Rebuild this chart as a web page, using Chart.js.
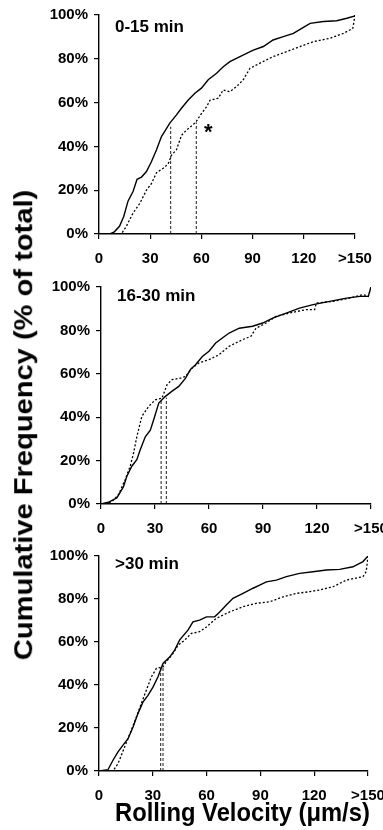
<!DOCTYPE html>
<html><head><meta charset="utf-8">
<script src="https://cdn.jsdelivr.net/npm/chart.js@4.4.1/dist/chart.umd.min.js"></script>
<style>
html,body{margin:0;padding:0;background:#fff;width:383px;height:830px;overflow:hidden;position:relative;}
canvas{position:absolute;left:0;}
.t{position:absolute;font-family:"Liberation Sans",Arial,sans-serif;font-weight:bold;color:#000;white-space:nowrap;line-height:1;}
</style></head><body>
<canvas id="c1" width="400" height="270" style="top:0px"></canvas>
<canvas id="c2" width="400" height="270" style="top:270px"></canvas>
<canvas id="c3" width="400" height="270" style="top:540px"></canvas>
<div id="ytitle" class="t" style="font-size:26px">Cumulative Frequency (% of total)</div>
<div id="xtitle" class="t" style="font-size:26px">Rolling Velocity (μm/s)</div>
<script>
// ---- tick labels ----
const xTickValues = [0, 30, 60, 90, 120, 150];
const xTickLabels = ['0', '30', '60', '90', '120', '>150'];
const yTickValues = [0, 20, 40, 60, 80, 100];
const yTickLabels = ['0%', '20%', '40%', '60%', '80%', '100%'];
const panelTitles = ['0-15 min', '16-30 min', '>30 min'];

// ---- Panel 1: 0-15 min ----
const p1SolidV = [0,6.3,9,12,14.5,17,20,22.3,24.9,27.8,30.7,33.7,36.6,41.5,45.4,48.3,52.3,56.2,60,64,68.9,72.8,76.7,82.6,90.4,96.3,102,108,113.9,118.8,123.7,131.5,139.3,145.2,149.5,150];
const p1SolidF = [0,0,1,3.5,8,15,19.5,25,26,28.5,33,38.5,44.5,50.6,54.4,57.4,61.2,64.3,66.6,70.4,73.4,76.4,78.7,81,84,85.6,88.6,90.1,91.6,93.9,96.2,97,97.4,98.5,99.5,100];
const p1DotV = [0,13.1,16,20,23.9,27.8,30.7,33.7,37.6,40.5,42.5,45.4,48.3,51.3,55.2,57,60,63,65,69.9,72.8,76.7,80.6,84.5,88.5,94.3,102,110,117.8,125.6,135.4,143.2,148.7,149.7,150];
const p1DotF = [0,0,3.5,9.6,14,20,23,28,30,32,36,38.5,45,47.5,50,51.4,55,58,61,62,65.8,65,67.3,70.4,75.7,78,81,83.3,85.6,87.8,89.4,91.6,93.9,98.5,100];
const p1MedianV = [42, 57];
const p1MedianF = [49, 51];
const p1Star = [64, 48.4];

// ---- Panel 2: 16-30 min ----
const p2SolidV = [0,4.1,6.9,8.8,12.5,14.3,17.1,19.9,21.8,24.6,27.4,29.3,32.1,35.8,39.5,43.2,47,49.7,52.5,56.3,60,63.7,67.4,71.2,76.8,84.2,89.8,95.4,102.9,110.3,117.8,127,136.4,143.8,148.5,150];
const p2SolidF = [0,0.8,2,2.8,8,12.7,17.4,20.4,25,31,34,38.9,46.5,49.6,52,54.2,58,62,64.2,68,70.4,74.2,76.5,78.8,81,81.9,83.4,85.7,88,90.3,91.9,93.4,94.9,95.7,95.7,100];
const p2DotV = [0,6,9.7,13.4,16.2,18.1,19.9,22.7,26.5,30.2,33.9,36.7,39.5,44.2,47,50.7,54.4,60,65.6,71.2,78.6,83.3,86.1,91.7,97.3,104.7,114,118.7,119.6,129,138.3,145.7,148.5,150];
const p2DotF = [0,1,4.3,11.2,17.4,23.5,31,40.4,45,48,48.8,55,57.3,58,58.8,62.7,65,66.5,68.8,72.7,75.7,77.3,81,83.4,86.5,88,89.6,89.6,92.6,93.4,94.9,96.5,95.7,100];
const p2MedianV = [33.4, 36.3];
const p2MedianF = [48.5, 49];

// ---- Panel 3: >30 min ----
const p3SolidV = [0,5,7.8,10.6,13.4,16.2,19,21.7,24.5,27.3,30.1,32.9,35.7,39.4,42.2,45,49.6,52.4,56.1,59.9,64.5,67.3,71,74.7,80.3,85.9,89.6,93.3,98.9,104.5,111.9,119.3,126.8,134.2,141.6,147.2,150];
const p3SolidF = [0,0.6,5,8.9,12,15,20.5,26.7,32,35.2,39,43.8,50,53,56.2,61,65.5,69.4,70.2,71.7,71.7,74,77.2,80.3,82.6,85,86.5,88,88.8,90.4,91.9,92.7,93.5,93.8,95,97.4,100];
const p3DotV = [0,7.8,10.6,14.3,18,20.8,23.6,26.4,29.2,32,35.7,37.5,41.3,44.1,47.8,51.5,56.1,59.9,65.4,72.9,80.3,87.7,95.2,102.6,110,117.5,123,130.5,137.9,147.2,149,150];
const p3DotF = [0,0,3.4,11.2,19,25,31.4,37.6,43.8,47.7,48.4,50.8,54.7,58.5,60.9,64,64.8,67,71,74,76.4,78,78.7,81,82.6,83.4,84.2,85.7,88.8,90.4,92.7,100];
const p3MedianV = [34.4, 35.7];
const p3MedianF = [48, 48];

const FONT = '"Liberation Sans", Arial, Helvetica, sans-serif';
const zip = (xs, ys) => xs.map((x, i) => ({x: x, y: ys[i]}));

function makePanel(id, area, title, titleY, sV, sF, dV, dF, mV, mF, star) {
  const datasets = [];
  mV.forEach((v, i) => datasets.push({
    data: [{x: v, y: 0}, {x: v, y: mF[i]}],
    borderColor: '#000', borderWidth: 0.9, borderDash: [3, 2], pointRadius: 0, tension: 0
  }));
  datasets.push({data: zip(dV, dF), borderColor: '#000', borderWidth: 1.3, borderDash: [2, 2], pointRadius: 0, tension: 0});
  datasets.push({data: zip(sV, sF), borderColor: '#000', borderWidth: 1.4, pointRadius: 0, tension: 0});

  const overlay = {
    id: 'overlay',
    afterDatasetsDraw(chart) {
      const ctx = chart.ctx;
      ctx.save();
      ctx.fillStyle = '#000';
      ctx.textBaseline = 'alphabetic';
      ctx.textAlign = 'left';
      ctx.font = 'bold 17px ' + FONT;
      ctx.fillText(title, chart.chartArea.left + 16, chart.chartArea.top + titleY);
      if (star) {
        const sx = chart.scales.x.getPixelForValue(star[0]);
        const sy = chart.scales.y.getPixelForValue(star[1]);
        ctx.font = 'bold 22px ' + FONT;
        ctx.textAlign = 'center';
        ctx.textBaseline = 'middle';
        ctx.fillText('*', sx, sy + 5);
      }
      ctx.restore();
    }
  };

  const H = 270;
  return new Chart(document.getElementById(id), {
    type: 'line',
    data: {datasets: datasets},
    plugins: [overlay],
    options: {
      responsive: false,
      animation: false,
      events: [],
      layout: {padding: {top: area.top, right: 400 - area.right, left: 0, bottom: 0}},
      plugins: {legend: {display: false}, tooltip: {enabled: false}},
      scales: {
        x: {
          type: 'linear', min: 0, max: 150,
          afterFit(s) { s.height = H - area.bottom; },
          afterBuildTicks(s) { s.ticks = xTickValues.map(v => ({value: v})); },
          grid: {display: true, drawOnChartArea: false, drawTicks: true, tickLength: 5, color: '#000', lineWidth: 1.2},
          border: {display: true, color: '#000', width: 1.4},
          ticks: {
            padding: 11, color: '#000', maxRotation: 0, autoSkip: false,
            font: {family: FONT, size: 15, weight: 'bold'},
            callback: (v) => xTickLabels[xTickValues.indexOf(v)]
          }
        },
        y: {
          type: 'linear', min: 0, max: 100,
          afterFit(s) { s.width = area.left; },
          afterBuildTicks(s) { s.ticks = yTickValues.map(v => ({value: v})); },
          grid: {display: true, drawOnChartArea: false, drawTicks: true, tickLength: 5, color: '#000', lineWidth: 1.2},
          border: {display: true, color: '#000', width: 1.4},
          ticks: {
            padding: 6, color: '#000', autoSkip: false,
            font: {family: FONT, size: 15, weight: 'bold'},
            callback: (v) => yTickLabels[yTickValues.indexOf(v)]
          }
        }
      }
    }
  });
}

makePanel('c1', {left: 99, top: 15, right: 355, bottom: 234}, panelTitles[0], 17,
  p1SolidV, p1SolidF, p1DotV, p1DotF, p1MedianV, p1MedianF, p1Star);
makePanel('c2', {left: 101, top: 17, right: 371, bottom: 234}, panelTitles[1], 14,
  p2SolidV, p2SolidF, p2DotV, p2DotF, p2MedianV, p2MedianF, null);
makePanel('c3', {left: 99, top: 16, right: 368, bottom: 231}, panelTitles[2], 13,
  p3SolidV, p3SolidF, p3DotV, p3DotF, p3MedianV, p3MedianF, null);

// axis titles
const yt = document.getElementById('ytitle');
const yw = yt.offsetWidth;
yt.style.left = (23 - yw / 2) + 'px';
yt.style.top = (425 - yt.offsetHeight / 2) + 'px';
yt.style.transform = 'rotate(-90deg) scaleX(' + (470 / yw) + ')';

const xt = document.getElementById('xtitle');
const xw = xt.offsetWidth;
xt.style.left = (242 - xw / 2) + 'px';
xt.style.top = (812 - xt.offsetHeight / 2) + 'px';
xt.style.transform = 'scaleX(' + (255 / xw) + ')';
</script>
</body></html>
